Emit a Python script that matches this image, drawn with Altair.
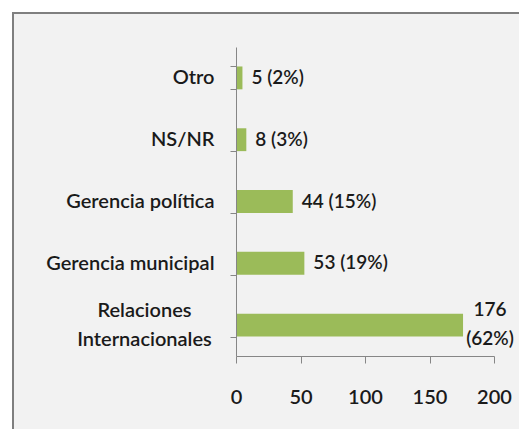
import altair as alt
import pandas as pd

categories = ["Otro", "NS/NR", "Gerencia política", "Gerencia municipal", "Relaciones Internacionales"]
counts = [5, 8, 44, 53, 176]
labels = ["5 (2%)", "8 (3%)", "44 (15%)", "53 (19%)", "176\n(62%)"]
x_ticks = [0, 50, 100, 150, 200]

df = pd.DataFrame({"cat": categories, "n": counts, "label": labels})

FONT = "Lato"
FW = 600
TXT = "#1a1a1a"
AXC = "#868686"
TWO = "datum.value == 'Relaciones Internacionales'"

base = alt.Chart(df).encode(
    x=alt.X(
        "n:Q",
        scale=alt.Scale(domain=[0, 200], nice=False),
        axis=alt.Axis(
            values=x_ticks, title=None, grid=False, tickSize=7, labelPadding=24,
            labelFontSize=20, labelFont=FONT, labelFontWeight=FW, labelColor=TXT,
            domainColor=AXC, tickColor=AXC, labelFlush=False, zindex=1,
        ),
    ),
    y=alt.Y(
        "cat:N",
        sort=categories,
        title=None,
        scale=alt.Scale(paddingInner=0.63, paddingOuter=0.315),
        axis=alt.Axis(
            tickBand="extent", tickSize=6, grid=False,
            labelExpr="datum.value == 'Relaciones Internacionales' ? ['Relaciones', 'Internacionales'] : datum.value",
            labelAlign={"condition": {"test": TWO, "value": "center"}, "value": "right"},
            labelPadding={"condition": {"test": TWO, "value": 86}, "value": 16},
            labelOffset={"condition": {"test": TWO, "value": -15}, "value": 0},
            labelFontSize=20, labelLineHeight=29, labelFont=FONT, labelFontWeight=FW,
            labelColor=TXT, labelLimit=300, domainColor=AXC, tickColor=AXC, zindex=1,
        ),
    ),
)

frame = alt.Chart(pd.DataFrame({"f": [0]})).mark_rect(
    fill="#F2F2F2", stroke="#7F7F7F", strokeWidth=2
).encode(x=alt.value(-223), x2=alt.value(700), y=alt.value(-34), y2=alt.value(700))

bars = base.mark_bar(color="#9BBB59")

single = base.transform_filter("indexof(datum.label, '\\n') < 0").mark_text(
    align="left", baseline="middle", dx=9, font=FONT, fontSize=19, fontWeight=FW, color=TXT
).encode(text="label:N")

multi = base.transform_filter("indexof(datum.label, '\\n') >= 0").mark_text(
    align="center", baseline="middle", dx=27, dy=-15, lineBreak="\n", lineHeight=29,
    font=FONT, fontSize=19, fontWeight=FW, color=TXT
).encode(text="label:N")

chart = alt.layer(frame, bars, single, multi).properties(
    width=258, height=309,
    autosize=alt.AutoSizeParams(type="none"),
    padding={"left": 228, "top": 39, "right": 25, "bottom": 73},
).configure(background="white").configure_view(stroke=None)

chart.save("out.html", embed_options={"renderer": "svg", "actions": False})
